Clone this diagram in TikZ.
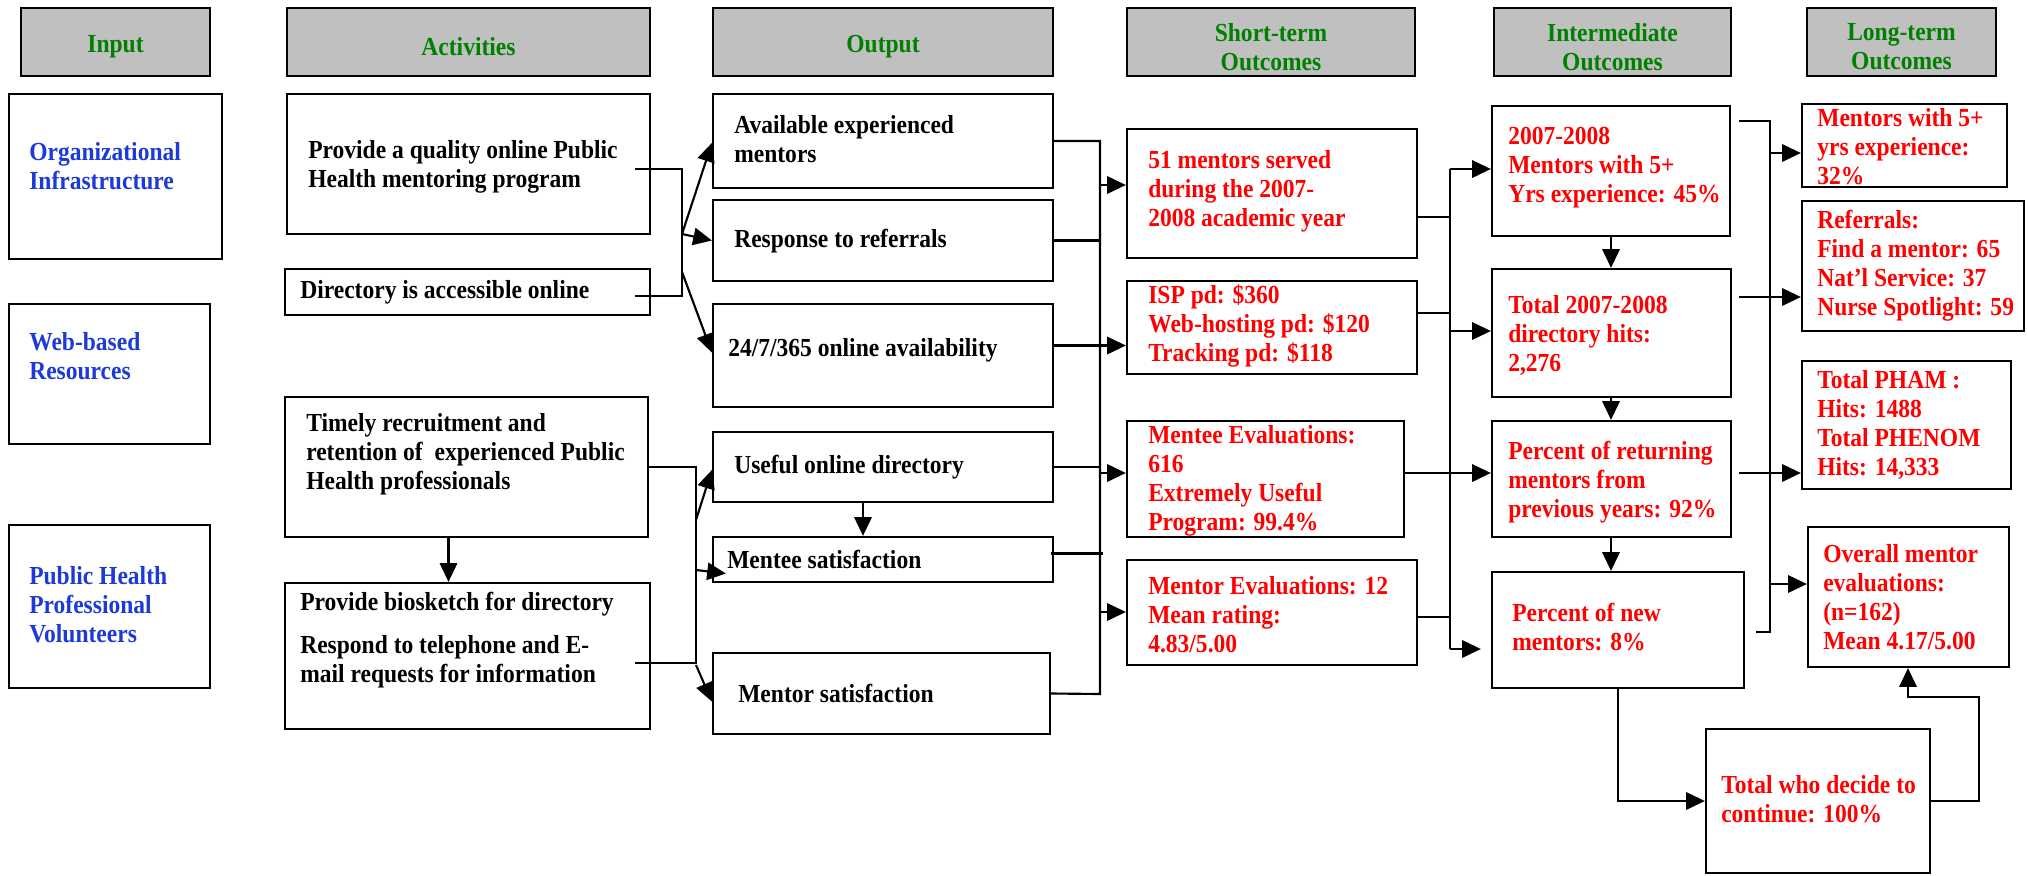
\documentclass[tikz,border=0pt]{standalone}
\usepackage{fontspec}
\setmainfont{Liberation Serif}[FakeStretch=0.905]
\usetikzlibrary{arrows.meta,calc}
\definecolor{hdrgray}{RGB}{192,192,192}
\definecolor{hdrgreen}{RGB}{0,128,0}
\definecolor{inblue}{RGB}{28,58,214}
\definecolor{outred}{RGB}{255,0,0}
\newcommand\mainfnt{\fontsize{19.5}{21.75}\selectfont\bfseries}
\tikzset{
  frame/.style={draw, line width=1.7pt, inner sep=0pt},
  hdrbox/.style={frame, line width=2.1pt, fill=hdrgray, text=hdrgreen, align=center, font=\mainfnt},
  txt/.style={anchor=west, align=left, inner sep=0pt, font=\mainfnt},
  intxt/.style={txt, text=inblue},
  actxt/.style={txt, text=black},
  restxt/.style={txt, text=outred},
  ln/.style={line width=1.6pt},
  arr/.style={ln, -{Triangle[length=14pt,width=13pt]}},
}
\newcommand\mybox[9]{%
  \pgfmathsetmacro\mbw{(#4-#2)*0.75}%
  \pgfmathsetmacro\mbh{(#5-#3)*0.75}%
  \node[frame, minimum width=\mbw pt, minimum height=\mbh pt] (#1) at ({(#2+#4)/2},{(#3+#5)/2}) {};%
  \node[#6] (#1-t) at ({#2+#7},{(#3+#5)/2+#8}) {#9};%
}
\newcommand\myhdr[6]{%
  \pgfmathsetmacro\mbw{(#4-#2)*0.75}%
  \pgfmathsetmacro\mbh{(#5-#3)*0.75}%
  \node[hdrbox, minimum width=\mbw pt, minimum height=\mbh pt] (#1) at ({(#2+#4)/2},{(#3+#5)/2}) {};%
  \node[txt, anchor=center, align=center, text=hdrgreen] (#1-t) at ({(#2+#4)/2},{(#3+#5)/2+5}) {#6};%
}
\begin{document}
\begin{tikzpicture}[x=0.75pt,y=-0.75pt]
\useasboundingbox (0,0) rectangle (2028,875);
\fill[white] (0,0) rectangle (2028,875);
% headers
\myhdr{hIn}{21}{8}{210}{76}{Input}
\myhdr{hAct}{287}{8}{650}{76}{Activities}
\myhdr{hOut}{713}{8}{1053}{76}{Output}
\myhdr{hST}{1127}{8}{1415}{76}{Short-term\\Outcomes}
\myhdr{hIM}{1494}{8}{1731}{76}{Intermediate\\Outcomes}
\myhdr{hLT}{1807}{8}{1996}{76}{Long-term\\Outcomes}
% inputs
\mybox{org}{9}{94}{222}{259}{intxt}{20}{-10}{Organizational\\Infrastructure}
\mybox{web}{9}{304}{210}{444}{intxt}{20}{-18}{Web-based\\Resources}
\mybox{phv}{9}{525}{210}{688}{intxt}{20}{-2}{Public Health\\Professional\\Volunteers}
% activities
\mybox{prov}{287}{94}{650}{234}{actxt}{21}{3}{Provide a quality online Public\\Health mentoring program}
\mybox{dir}{285}{269}{650}{315}{actxt}{15}{0}{Directory is accessible online}
\mybox{timely}{285}{397}{648}{537}{actxt}{21}{-13}{Timely recruitment and\\retention of\ \ experienced Public\\Health professionals}
\mybox{bio}{285}{583}{650}{729}{actxt}{15}{-16}{Provide biosketch for directory\\[11pt]Respond to telephone and E-\\mail requests for information}
% outputs
\mybox{avail}{713}{94}{1053}{188}{actxt}{21}{-2}{Available experienced\\mentors}
\mybox{resp}{713}{200}{1053}{281}{actxt}{21}{1}{Response to referrals}
\mybox{avl}{713}{304}{1053}{407}{actxt}{15}{-5}{24/7/365 online availability}
\mybox{useful}{713}{432}{1053}{502}{actxt}{21}{0}{Useful online directory}
\mybox{mentee}{713}{537}{1053}{582}{actxt}{14}{0}{Mentee satisfaction}
\mybox{mentor}{713}{653}{1050}{734}{actxt}{25}{0}{Mentor satisfaction}
% short-term
\mybox{st1}{1127}{129}{1417}{258}{restxt}{21}{-2}{51 mentors served\\during the 2007-\\2008 academic year}
\mybox{st2}{1127}{281}{1417}{374}{restxt}{21}{-2}{ISP pd: \$360\\Web-hosting pd: \$120\\Tracking pd: \$118}
\mybox{st3}{1127}{421}{1404}{537}{restxt}{21}{2}{Mentee Evaluations:\\616\\Extremely Useful\\Program: 99.4\%}
\mybox{st4}{1127}{560}{1417}{665}{restxt}{21}{2}{Mentor Evaluations: 12\\Mean rating:\\4.83/5.00}
% intermediate
\mybox{im1}{1492}{106}{1730}{236}{restxt}{16}{-3}{2007-2008\\Mentors with 5+\\Yrs experience: 45\%}
\mybox{im2}{1492}{269}{1731}{397}{restxt}{16}{2}{Total 2007-2008\\directory hits:\\2,276}
\mybox{im3}{1492}{421}{1731}{537}{restxt}{16}{3}{Percent of returning\\mentors from\\previous years: 92\%}
\mybox{im4}{1492}{572}{1744}{688}{restxt}{20}{-3}{Percent of new\\mentors: 8\%}
\mybox{im5}{1706}{729}{1930}{873}{restxt}{15}{-2}{Total who decide to\\continue: 100\%}
% long-term
\mybox{lt1}{1802}{104}{2007}{187}{restxt}{15}{1}{Mentors with 5+\\yrs experience:\\32\%}
\mybox{lt2}{1802}{201}{2024}{331}{restxt}{15}{0}{Referrals:\\Find a mentor: 65\\Nat’l Service: 37\\Nurse Spotlight: 59}
\mybox{lt3}{1802}{361}{2011}{489}{restxt}{15}{0}{Total PHAM :\\Hits: 1488\\Total PHENOM\\Hits: 14,333}
\mybox{lt4}{1808}{527}{2009}{667}{restxt}{15}{0}{Overall mentor\\evaluations:\\(n=162)\\Mean 4.17/5.00}
% activities -> outputs
\coordinate (b1) at (682,169); \coordinate (b2) at (682,296);
\draw[ln] ($(prov.east)+(-16,5)$) -- (b1) -- (b2) -- ($(dir.east)+(-16,4)$);
\coordinate (f1) at (682,234); \coordinate (f2) at (682,272);
\draw[arr] (f1) -- ($(avail.west)+(0,2)$);
\draw[arr] (f1) -- (resp.west);
\draw[arr] (f2) -- ($(avl.west)+(0,-3)$);
\coordinate (b3) at (696,467); \coordinate (b4) at (696,663);
\draw[ln] (timely.east) -- (b3) -- (b4) -- ($(bio.east)+(-16,7)$);
\coordinate (f3) at (696,520); \coordinate (f4) at (696,570); \coordinate (f5) at (696,665);
\draw[arr] (f3) -- ($(useful.west)+(0,3)$);
\draw[arr] (f4) -- ($(mentee.west)+(14,14)$);
\draw[arr] (f5) -- ($(mentor.west)+(0,8)$);
\draw[arr] ($(timely.south)+(-18,0)$) -- ($(bio.north)+(-19,0)$);
\draw[arr] ($(useful.south)+(-20,0)$) -- ($(mentee.north)+(-20,0)$);
% outputs -> short-term
\coordinate (ob1) at (1100,141); \coordinate (ob2) at (1100,694);
\draw[ln] (avail.east) -- (ob1) -- (ob2) -- (mentor.east);
\draw[ln] (resp.east) -- (ob1 |- resp.east);
\draw[ln] (useful.east) -- (ob1 |- useful.east);
\draw[ln] ($(mentee.east)+(-3,-6)$) -- ($(ob1 |- mentee.east)+(3,-6)$);
\draw[arr] ($(avl.east)+(-2,-10)$) -- ($(st2.west |- avl.east)+(0,-10)$);
\draw[arr] (1100,185) -- (st1.west |- 0,185);
\draw[arr] (1100,473) -- (st3.west |- 0,473);
\draw[arr] (1100,612) -- (st4.west |- 0,612);
% short-term -> intermediate
\coordinate (pb1) at (1450,169); \coordinate (pb2) at (1450,649);
\draw[ln] (pb1) -- (pb2);
\draw[arr] (pb1) -- (im1.west |- pb1);
\draw[ln] (st1.east |- 0,217) -- (pb1 |- 0,217);
\draw[ln] (st2.east |- 0,313) -- (pb1 |- 0,313);
\draw[arr] (pb1 |- 0,331) -- (im2.west |- 0,331);
\draw[arr] ($(st3.east |- 0,473)+(-2,0)$) -- (im3.west |- 0,473);
\draw[ln] (st4.east |- 0,617) -- (pb1 |- 0,617);
\draw[arr] (pb2) -- ($(im4.west |- pb2)+(-10,0)$);
% intermediate vertical
\draw[arr] (im1.south -| 1611,0) -- (im2.north -| 1611,0);
\draw[arr] (im2.south -| 1611,0) -- (im3.north -| 1611,0);
\draw[arr] (im3.south -| 1611,0) -- (im4.north -| 1611,0);
% intermediate -> long-term
\coordinate (qb1) at (1770,121); \coordinate (qb2) at (1770,632);
\draw[ln] ($(im1.east |- qb1)+(8,0)$) -- (qb1) -- (qb2) -- ($(im4.east |- qb2)+(11,0)$);
\draw[arr] (qb1 |- 0,153) -- (lt1.west |- 0,153);
\draw[arr] ($(im2.east |- 0,297)+(7,0)$) -- (lt2.west |- 0,297);
\draw[arr] ($(im3.east |- 0,473)+(7,0)$) -- (lt3.west |- 0,473);
\draw[arr] (qb1 |- 0,584) -- (lt4.west |- 0,584);
% new mentors -> continue -> overall
\coordinate (c1) at (1618,801);
\draw[arr] (im4.south -| c1) -- (c1) -- (im5.west |- c1);
\coordinate (c2) at (1979,801); \coordinate (c3) at (1979,697); \coordinate (c4) at (1908,697);
\draw[arr] (im5.east |- c2) -- (c2) -- (c3) -- (c4) -- (lt4.south -| c4);
\end{tikzpicture}
\end{document}
